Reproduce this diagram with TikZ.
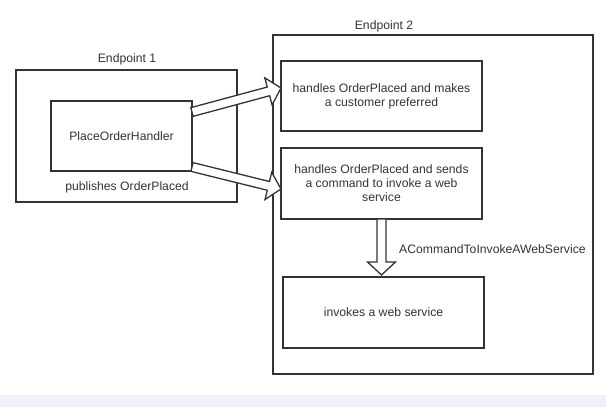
\documentclass[tikz,border=0pt]{standalone}
\usepackage{fontspec}
\setmainfont{Liberation Sans}
\usetikzlibrary{calc,positioning}

\definecolor{linegray}{RGB}{51,51,51}
\definecolor{bandblue}{RGB}{238,241,250}

\tikzset{
  box/.style={draw=linegray, line width=1.5pt, inner sep=0pt, outer sep=0pt,
    align=center, text=linegray, font=\fontsize{12.2}{14}\selectfont},
  lbl/.style={text=linegray, inner sep=0pt, font=\fontsize{12.2}{14}\selectfont},
  arrowbody/.style={draw=linegray, fill=white, line width=1.3pt, line join=miter}
}

% hollow block arrow from #1 to tip #2
\newcommand{\blockarrow}[2]{%
  \coordinate (s) at (#1);
  \coordinate (t) at (#2);
  \coordinate (b) at ($(t)!13pt!(s)$);
  \draw[arrowbody] ($(s)!4.5pt!90:(t)$) -- ($(b)!4.5pt!90:(t)$) -- ($(b)!14pt!90:(t)$)
    -- (t) -- ($(b)!14pt!-90:(t)$) -- ($(b)!4.5pt!-90:(t)$) -- ($(s)!4.5pt!-90:(t)$) -- cycle;
}

\begin{document}
\begin{tikzpicture}[x=1pt,y=-1pt]

\useasboundingbox (0,0) rectangle (606,407);
\fill[bandblue] (0,395) rectangle (606,407);

\node[box, minimum width=221pt, minimum height=132pt] (ep1) at (126.5,136) {};
\node[box, minimum width=320pt, minimum height=339pt] (ep2) at (433,204.5) {};

\node[lbl] (ep1 title) at (127,59) {Endpoint 1};
\node[lbl] (ep2 title) at (384,26) {Endpoint 2};

\node[box, minimum width=141pt, minimum height=70pt] (handler) at (121.5,136) {PlaceOrderHandler};
\node[lbl] (publishes) at (127,187) {publishes OrderPlaced};

\node[box, minimum width=201pt, minimum height=70pt] (prefer) at (381.5,96)
  {handles OrderPlaced and makes\\a customer preferred};
\node[box, minimum width=201pt, minimum height=71pt] (send) at (381.5,183.5)
  {handles OrderPlaced and sends\\a command to invoke a web\\service};
\node[box, minimum width=201pt, minimum height=71pt] (invoke) at (383.5,312.5)
  {invokes a web service};

\blockarrow{$(handler.east)+(0,-24)$}{$(prefer.west)+(0,-8)$}
\blockarrow{$(handler.east)+(0,31)$}{$(send.west)+(0,5.5)$}
\blockarrow{send.south}{$(send.south |- invoke.north)+(0,-2)$}

\node[lbl, anchor=west] (command) at (399,249) {ACommandToInvokeAWebService};

\end{tikzpicture}
\end{document}
